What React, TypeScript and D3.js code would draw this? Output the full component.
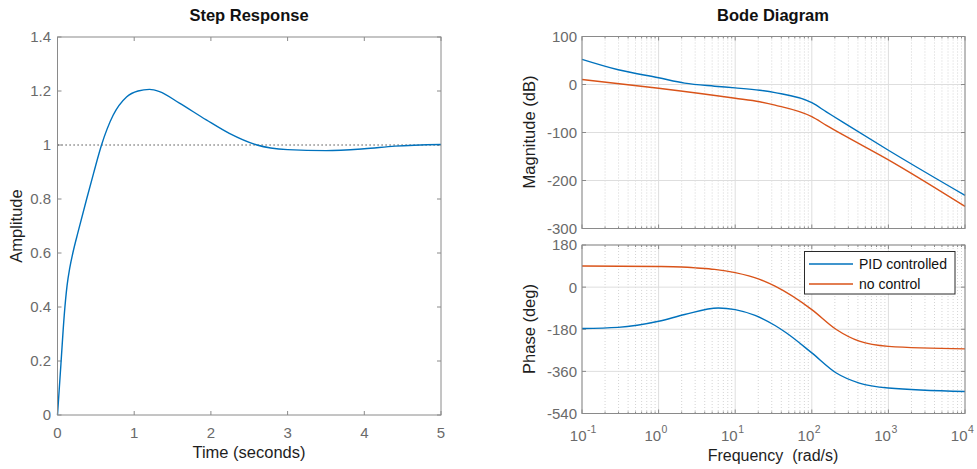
import React from "react";
import * as d3 from "d3";

// ---------- Data ----------
const stepTime = [0, 0.045, 0.088, 0.125, 0.16, 0.2, 0.27, 0.38, 0.47, 0.574, 0.725, 0.9, 1.05, 1.2, 1.33, 1.59, 1.94, 2.24, 2.6, 3.0, 3.5, 4.0, 4.4, 5.0];
const stepAmp = [0, 0.19, 0.37, 0.48, 0.545, 0.6, 0.68, 0.8, 0.895, 1.0, 1.11, 1.178, 1.2, 1.206, 1.198, 1.155, 1.093, 1.043, 1.0, 0.983, 0.979, 0.986, 0.996, 1.002];

const magLogW_pid = [-1, -0.527, 0, 0.34, 0.73, 1, 1.32, 1.52, 2, 2.19, 2.41, 3, 4];
const magDb_pid = [52.4, 30.7, 14, 2.8, -3.5, -7, -12, -17, -38, -57, -79, -137, -231];
const magLogW_plant = [-1, 0, 1, 1.32, 1.52, 2, 2.19, 2.41, 3, 4];
const magDb_plant = [10.5, -7.7, -28.6, -36, -43, -67, -85, -105, -157, -254];

const phLogW_pid = [-1, -0.53, 0, 0.34, 0.78, 1, 1.26, 1.52, 1.67, 2, 2.32, 2.62, 3, 4];
const phDeg_pid = [-177, -172, -146, -117, -89, -96, -121, -164, -196, -281, -367, -410, -431, -446];
const phLogW_plant = [-1, 0, 0.3, 0.5, 0.73, 1, 1.32, 1.52, 2, 2.32, 2.62, 3, 4];
const phDeg_plant = [90, 88, 86, 82, 76, 62, 33, 4, -96, -181, -231, -253, -264];

const stepXTicks = [0, 1, 2, 3, 4, 5];
const stepYTicks = [0, 0.2, 0.4, 0.6, 0.8, 1, 1.2, 1.4];
const magTicks = [-300, -200, -100, 0, 100];
const phaseTicks = [-540, -360, -180, 0, 180];
const decadeExps = [-1, 0, 1, 2, 3, 4];
const legendLabels = ["PID controlled", "no control"];

// ---------- Style ----------
const FONT = "'Liberation Sans', Arial, Helvetica, sans-serif";
const BLUE = "#0072BD";
const ORANGE = "#D95319";
const AXIS = "#8a8a8a";
const TICKTXT = "#6a6a6a";
const LABEL = "#1e1e1e";
const GRID = "#dedede";
const MINOR = "#d4d4d4";

export default function App() {
  const sx = d3.scaleLinear().domain([0, 5]).range([57.5, 441]);
  const sy = d3.scaleLinear().domain([0, 1.4]).range([415, 37]);
  const bx = d3.scaleLog().domain([0.1, 10000]).range([582, 965]);
  const my = d3.scaleLinear().domain([-300, 100]).range([228.5, 36.5]);
  const py = d3.scaleLinear().domain([-540, 180]).range([413.5, 245]);

  const stepLine = d3
    .line<number>()
    .x((_, i) => sx(stepTime[i]))
    .y((v) => sy(v))
    .curve(d3.curveMonotoneX);

  const mkLine = (ws: number[], yScale: d3.ScaleLinear<number, number>) =>
    d3
      .line<number>()
      .x((_, i) => bx(Math.pow(10, ws[i])))
      .y((v) => yScale(v))
      .curve(d3.curveMonotoneX);

  const allTicks = bx.ticks();
  const isMajor = (t: number) => Math.abs(Math.log10(t) - Math.round(Math.log10(t))) < 1e-9;
  const minorTicks = allTicks.filter((t) => !isMajor(t));

  const tl = 4;

  const bodePanel = (
    yScale: d3.ScaleLinear<number, number>,
    yTicks: number[],
    key: string
  ) => {
    const [y0, y1] = yScale.range();
    const top = Math.min(y0, y1);
    const bot = Math.max(y0, y1);
    return (
      <g key={key}>
        {minorTicks.map((t, i) => (
          <line key={"mn" + i} x1={bx(t)} x2={bx(t)} y1={top} y2={bot} stroke={MINOR} strokeWidth={1} strokeDasharray="1,2" />
        ))}
        {decadeExps.map((e, i) => (
          <line key={"mj" + i} x1={bx(Math.pow(10, e))} x2={bx(Math.pow(10, e))} y1={top} y2={bot} stroke={GRID} strokeWidth={1} />
        ))}
        {yTicks.map((t, i) => (
          <line key={"hy" + i} x1={bx.range()[0]} x2={bx.range()[1]} y1={yScale(t)} y2={yScale(t)} stroke={GRID} strokeWidth={1} />
        ))}
        {decadeExps.map((e, i) => (
          <g key={"tk" + i}>
            <line x1={bx(Math.pow(10, e))} x2={bx(Math.pow(10, e))} y1={bot} y2={bot - tl} stroke={AXIS} />
            <line x1={bx(Math.pow(10, e))} x2={bx(Math.pow(10, e))} y1={top} y2={top + tl} stroke={AXIS} />
          </g>
        ))}
        {minorTicks.map((t, i) => (
          <g key={"mt" + i}>
            <line x1={bx(t)} x2={bx(t)} y1={bot} y2={bot - 2} stroke={AXIS} />
            <line x1={bx(t)} x2={bx(t)} y1={top} y2={top + 2} stroke={AXIS} />
          </g>
        ))}
        {yTicks.map((t, i) => (
          <g key={"yt" + i}>
            <line x1={bx.range()[0]} x2={bx.range()[0] + tl} y1={yScale(t)} y2={yScale(t)} stroke={AXIS} />
            <line x1={bx.range()[1]} x2={bx.range()[1] - tl} y1={yScale(t)} y2={yScale(t)} stroke={AXIS} />
            <text x={bx.range()[0] - 5} y={yScale(t)} dy="0.36em" textAnchor="end" fontSize={15} fill={TICKTXT} fontFamily={FONT}>
              {t}
            </text>
          </g>
        ))}
      </g>
    );
  };

  return (
    <svg width={977} height={469} style={{ position: "absolute", left: 0, top: 0, background: "#fff" }}>
      <rect x={0} y={0} width={977} height={469} fill="#fff" />

      {/* ===== Step Response ===== */}
      <text x={249} y={21} textAnchor="middle" fontSize={16.5} fontWeight="bold" fill="#111" fontFamily={FONT}>
        Step Response
      </text>
      {stepXTicks.map((t, i) => (
        <g key={"sx" + i}>
          <line x1={sx(t)} x2={sx(t)} y1={415} y2={415 - tl} stroke={AXIS} />
          <line x1={sx(t)} x2={sx(t)} y1={37} y2={37 + tl} stroke={AXIS} />
          <text x={sx(t)} y={438} textAnchor="middle" fontSize={15} fill={TICKTXT} fontFamily={FONT}>
            {t}
          </text>
        </g>
      ))}
      {stepYTicks.map((t, i) => (
        <g key={"sy" + i}>
          <line x1={57.5} x2={57.5 + tl} y1={sy(t)} y2={sy(t)} stroke={AXIS} />
          <line x1={441} x2={441 - tl} y1={sy(t)} y2={sy(t)} stroke={AXIS} />
          <text x={51} y={sy(t)} dy="0.36em" textAnchor="end" fontSize={15} fill={TICKTXT} fontFamily={FONT}>
            {t}
          </text>
        </g>
      ))}
      <line x1={sx(0)} x2={sx(5)} y1={sy(1)} y2={sy(1)} stroke="#222" strokeWidth={1} strokeDasharray="1.2,2.8" />
      <path d={stepLine(stepAmp) || ""} fill="none" stroke={BLUE} strokeWidth={1.4} />
      <rect x={57.5} y={37} width={441 - 57.5} height={415 - 37} fill="none" stroke={AXIS} strokeWidth={1} />
      <text x={249} y={458} textAnchor="middle" fontSize={16.5} fill={LABEL} fontFamily={FONT}>
        Time (seconds)
      </text>
      <text transform="translate(16,226) rotate(-90)" textAnchor="middle" dy="0.36em" fontSize={16.5} fill={LABEL} fontFamily={FONT}>
        Amplitude
      </text>

      {/* ===== Bode ===== */}
      <text x={773} y={21} textAnchor="middle" fontSize={16.5} fontWeight="bold" fill="#111" fontFamily={FONT}>
        Bode Diagram
      </text>
      {bodePanel(my, magTicks, "mag")}
      {bodePanel(py, phaseTicks, "ph")}

      <path d={mkLine(magLogW_plant, my)(magDb_plant) || ""} fill="none" stroke={ORANGE} strokeWidth={1.4} />
      <path d={mkLine(magLogW_pid, my)(magDb_pid) || ""} fill="none" stroke={BLUE} strokeWidth={1.4} />
      <path d={mkLine(phLogW_plant, py)(phDeg_plant) || ""} fill="none" stroke={ORANGE} strokeWidth={1.4} />
      <path d={mkLine(phLogW_pid, py)(phDeg_pid) || ""} fill="none" stroke={BLUE} strokeWidth={1.4} />

      <rect x={582} y={36.5} width={965 - 582} height={228.5 - 36.5} fill="none" stroke={AXIS} strokeWidth={1} />
      <rect x={582} y={245} width={965 - 582} height={413.5 - 245} fill="none" stroke={AXIS} strokeWidth={1} />

      {decadeExps.map((e, i) => {
        const x = bx(Math.pow(10, e));
        const off = e < 0 ? 4.5 : 2.5;
        return (
          <g key={"xl" + i}>
            <text x={x + off} y={441} textAnchor="end" fontSize={15} fill={TICKTXT} fontFamily={FONT}>
              10
            </text>
            <text x={x + off + 0.5} y={433} textAnchor="start" fontSize={10.5} fill={TICKTXT} fontFamily={FONT}>
              {e}
            </text>
          </g>
        );
      })}
      <text x={773} y={461} textAnchor="middle" fontSize={16} fill={LABEL} fontFamily={FONT} style={{ whiteSpace: "pre" }}>
        {"Frequency  (rad/s)"}
      </text>
      <text transform="translate(529,132) rotate(-90)" textAnchor="middle" dy="0.36em" fontSize={16.5} fill={LABEL} fontFamily={FONT}>
        Magnitude (dB)
      </text>
      <text transform="translate(529,329) rotate(-90)" textAnchor="middle" dy="0.36em" fontSize={16.5} fill={LABEL} fontFamily={FONT}>
        Phase (deg)
      </text>

      {/* Legend */}
      <g>
        <rect x={804.5} y={251.5} width={150.5} height={42.5} fill="#fff" stroke="#2a2a2a" strokeWidth={1} />
        {legendLabels.map((lab, i) => (
          <g key={"lg" + i}>
            <line x1={809} x2={853} y1={264 + i * 20} y2={264 + i * 20} stroke={i === 0 ? BLUE : ORANGE} strokeWidth={1.4} />
            <text x={859} y={264 + i * 20} dy="0.36em" fontSize={14} fill="#111" fontFamily={FONT}>
              {lab}
            </text>
          </g>
        ))}
      </g>
    </svg>
  );
}
